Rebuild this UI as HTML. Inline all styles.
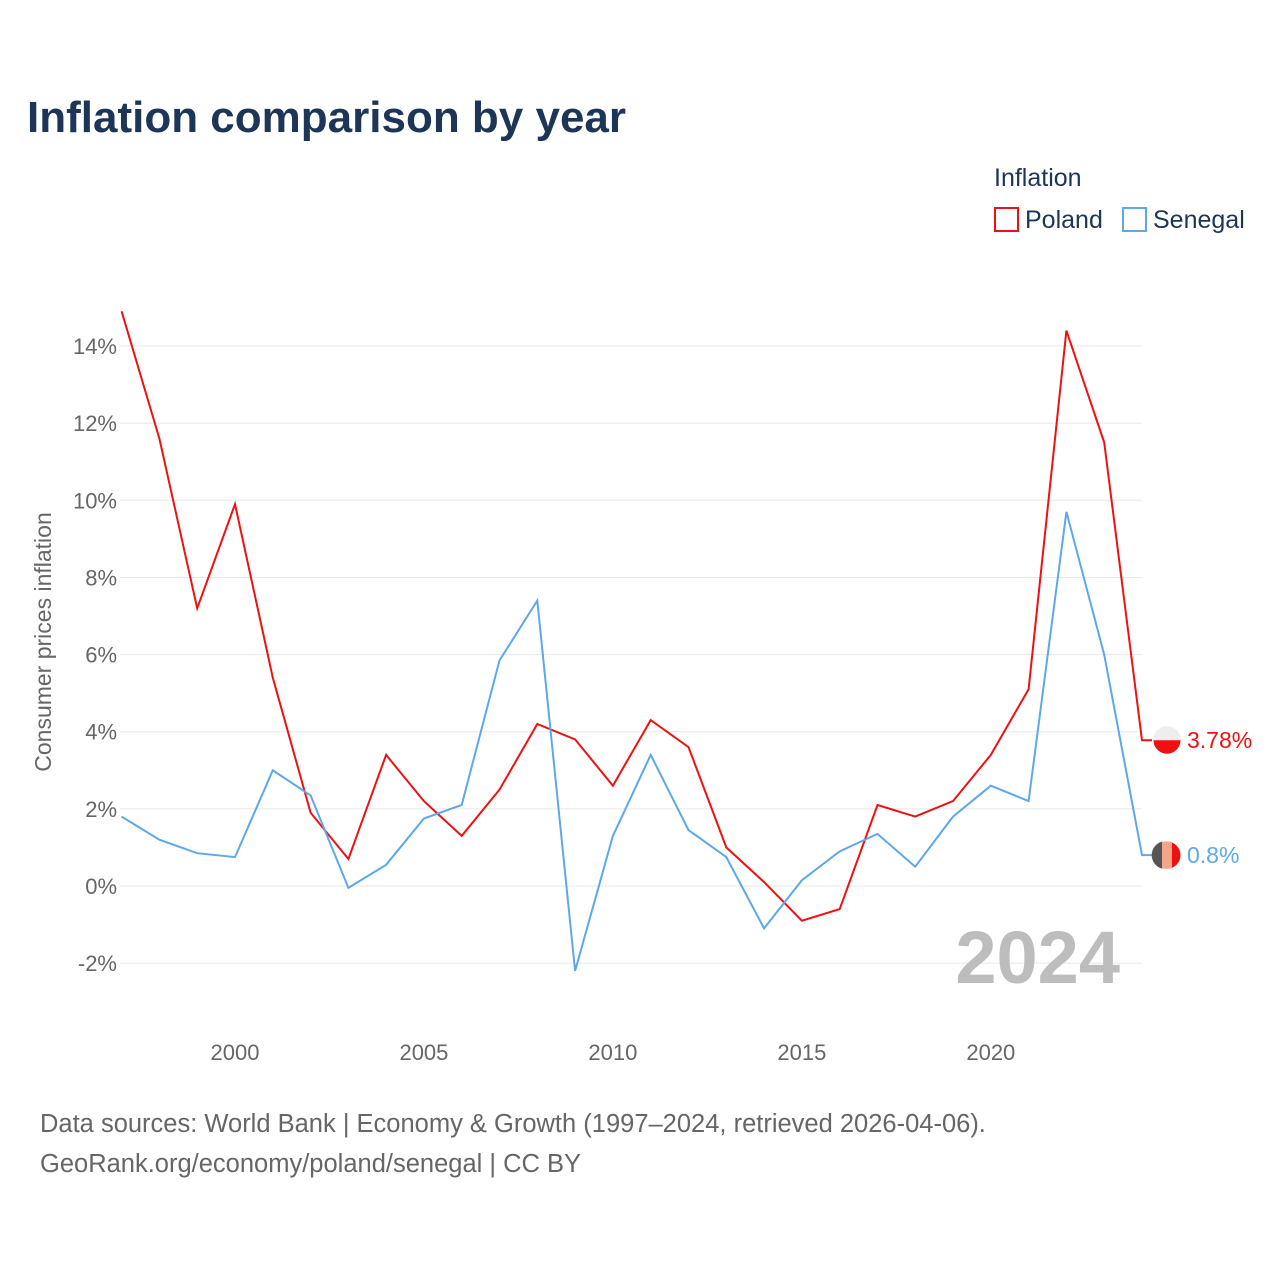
<!DOCTYPE html>
<html><head><meta charset="utf-8">
<style>
body{margin:0;background:#fff;font-family:"Liberation Sans",sans-serif;}
svg{display:block}
</style></head>
<body>
<svg id="chart" width="1280" height="1280" viewBox="0 0 1280 1280">
<text x="27" y="132" font-size="44" font-weight="bold" fill="#1d3557">Inflation comparison by year</text>
<text x="994" y="186" font-size="25" fill="#1d3557">Inflation</text>
<g>
<rect x="995" y="208" width="23" height="23" fill="none" stroke="#ee1111" stroke-width="2"/>
<text x="1025" y="228" font-size="25" fill="#1d3557">Poland</text></g>
<g>
<rect x="1123" y="208" width="23" height="23" fill="none" stroke="#5da8ea" stroke-width="2"/>
<text x="1153" y="228" font-size="25" fill="#1d3557">Senegal</text></g>
<text transform="translate(51,642) rotate(-90)" text-anchor="middle" font-size="23" fill="#666">Consumer prices inflation</text>
<g id="grid"></g><g id="yticks"></g><g id="xticks"></g>
<text x="1120" y="983" text-anchor="end" font-size="74" font-weight="bold" fill="#bdbdbd">2024</text>
<g id="series"></g>
<text x="40" y="1132" font-size="25.5" fill="#666">Data sources: World Bank | Economy &amp; Growth (1997–2024, retrieved 2026-04-06).</text>
<text x="40" y="1172" font-size="25.5" fill="#666">GeoRank.org/economy/poland/senegal | CC BY</text>
</svg>
<script>
const years=[1997,1998,1999,2000,2001,2002,2003,2004,2005,2006,2007,2008,2009,2010,2011,2012,2013,2014,2015,2016,2017,2018,2019,2020,2021,2022,2023,2024];
const poland=[14.9,11.6,7.2,9.9,5.4,1.9,0.7,3.4,2.2,1.3,2.5,4.2,3.8,2.6,4.3,3.6,1.0,0.1,-0.9,-0.6,2.1,1.8,2.2,3.4,5.1,14.4,11.5,3.78];
const senegal=[1.8,1.2,0.85,0.75,3.0,2.35,-0.05,0.55,1.75,2.1,5.85,7.4,-2.2,1.3,3.4,1.45,0.75,-1.1,0.15,0.9,1.35,0.5,1.8,2.6,2.2,9.7,6.0,0.8];
const yTicks=[-2,0,2,4,6,8,10,12,14];
const xTicks=[2000,2005,2010,2015,2020];
const NS='http://www.w3.org/2000/svg';
const x=v=>121.6+(v-1997)*(1142-121.6)/27;
const y=v=>886-v*38.57;
function mk(t,a,p){const e=document.createElementNS(NS,t);for(const k in a)e.setAttribute(k,a[k]);p.appendChild(e);return e;}
const grid=document.getElementById('grid'),yt=document.getElementById('yticks'),xt=document.getElementById('xticks'),sg=document.getElementById('series');
yTicks.forEach(v=>{
 const l=mk('line',{x1:120,x2:1142,y1:y(v),y2:y(v),stroke:'#e8e8e8','stroke-width':1},grid);
 
 
 const t=mk('text',{x:117,y:y(v)+8,'text-anchor':'end','font-size':22,fill:'#666'},yt);
 t.textContent=v+'%';
 
 
});
xTicks.forEach(v=>{
 const t=mk('text',{x:x(v),y:1060,'text-anchor':'middle','font-size':22,fill:'#666'},xt);
 t.textContent=v;
 
 
});
function draw(vals,color,name,label,markerFill){
 let d=vals.map((v,i)=>(i?'L':'M')+x(years[i]).toFixed(1)+' '+y(v).toFixed(1)).join(' ');
 const last=vals[vals.length-1];
 d+=' L1152 '+y(last).toFixed(1);
 const p=mk('path',{d:d,fill:'none',stroke:color,'stroke-width':2},sg);
 
 
 const c=mk('circle',{cx:1167,cy:y(last),r:14,fill:markerFill,stroke:'#fff','stroke-width':1},sg);
 
 
 const t=mk('text',{x:1187,y:y(last)+8,'font-size':23,fill:color},sg);
 t.textContent=label;
 
 
}
draw(poland,'#ee1111','poland','3.78%','#ee1111');
draw(senegal,'#5da8ea','senegal','0.8%','#ee1111');
const pf=mk('path',{d:'M1153 '+y(3.78)+' a14 14 0 0 1 28 0 z',fill:'#eeeeee'},sg);


const sy=y(0.8);
const s1=mk('path',{d:'M1162 '+(sy-13.5)+' a14 14 0 0 0 0 27 z',fill:'#555'},sg);


const s2=mk('rect',{x:1162,y:sy-13.5,width:10,height:27,fill:'#f5a68a'},sg);


</script>
</body></html>
